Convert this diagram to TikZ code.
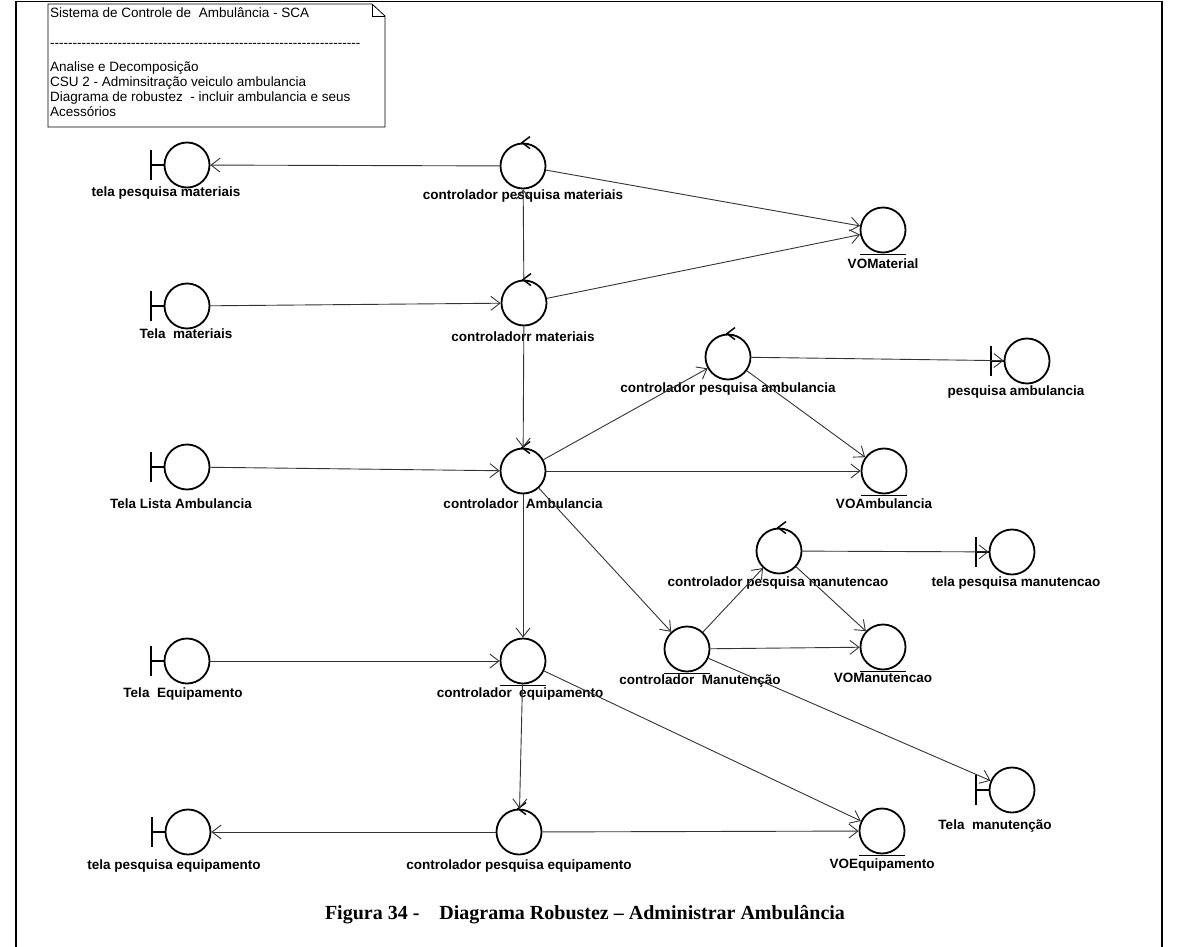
\documentclass[tikz,border=0pt]{standalone}
\usepackage{fontspec}
\newfontfamily\sansfnt{Liberation Sans}
\newfontfamily\seriffnt{Liberation Serif}
\usetikzlibrary{arrows.meta}

% a row of plain hyphens (no -- ligatures)
\newcommand\hyphenrow[1]{\foreach\k in {1,...,#1}{-}}

% robustness-diagram stereotype marks drawn onto a circle node
\newcommand\boundarymark[1]{\draw[iconline] (#1.west) -- ++(-13,0) ++(0,-15) -- ++(0,30);}
\newcommand\controlmark[1]{\draw[iconline, line width=1.5pt] ([xshift=7pt,yshift=6pt]#1.north) -- ([xshift=-1pt]#1.north) -- ([xshift=7pt,yshift=-6pt]#1.north);}
\newcommand\entitymark[1]{\draw[iconline] ([xshift=-23pt,yshift=-1pt]#1.south) -- ([xshift=23pt,yshift=-1pt]#1.south);}

\tikzset{
  iconline/.style={line width=1.8pt, black},
  icon/.style={circle, draw, line width=1.8pt, minimum size=45pt, inner sep=0pt},
  lbl/.style={font=\sansfnt\bfseries\fontsize{13.5}{15}\selectfont, inner sep=0pt},
  noteline/.style={anchor=base west, inner sep=0pt, font=\sansfnt\fontsize{13.5}{15}\selectfont},
  link/.style={draw=black!80, line width=0.9pt, -{Straight Barb[length=9pt,width=14pt]}},
}

\begin{document}
\begin{tikzpicture}[x=1pt,y=-1pt]
\useasboundingbox (0,0) rectangle (1178,947);

% page frame
\draw[line width=1.2pt] (16,947) -- (16,1.5) -- (1162,1.5) -- (1162,947);

% note
\draw[line width=0.8pt] (48,4) -- (372,4) -- (385,16) -- (385,127) -- (48,127) -- cycle;
\draw[line width=0.8pt] (372,4) -- (372,16) -- (385,16);
\node[noteline] (n1) at (50,18)  {Sistema de Controle de\ \ Ambulância - SCA};
\node[noteline] (n2) at (50,48)  {\hyphenrow{69}};
\node[noteline] (n3) at (50,72)  {Analise e Decomposição};
\node[noteline] (n4) at (50,87)  {CSU 2 - Adminsitração veiculo ambulancia};
\node[noteline] (n5) at (50,102) {Diagrama de robustez\ \ - incluir ambulancia e seus};
\node[noteline] (n6) at (50,117) {Acessórios};

% circles
\node[icon] (tpm)   at (187,165) {};
\node[icon] (cpm)   at (523,166) {};
\node[icon] (vomat) at (883,230) {};
\node[icon] (tm)    at (187,306) {};
\node[icon] (cm)    at (524,303) {};
\node[icon] (cpa)   at (728,357) {};
\node[icon] (pa)    at (1027,361) {};
\node[icon] (tla)   at (187,467) {};
\node[icon] (ca)    at (523,471) {};
\node[icon] (voa)   at (884,471) {};
\node[icon] (cpman) at (779,551) {};
\node[icon] (tpman) at (1012,552) {};
\node[icon] (cman)  at (687,649) {};
\node[icon] (voman) at (883,647) {};
\node[icon] (te)    at (187,661) {};
\node[icon] (ce)    at (523,661) {};
\node[icon] (tman)  at (1012,790) {};
\node[icon] (tpe)   at (188,832) {};
\node[icon] (cpe)   at (519,832) {};
\node[icon] (voe)   at (882,831) {};

% stereotype marks
\boundarymark{tpm} \boundarymark{tm} \boundarymark{tla} \boundarymark{te}
\boundarymark{tpe} \boundarymark{pa} \boundarymark{tpman} \boundarymark{tman}
\controlmark{cpm} \controlmark{cm} \controlmark{cpa} \controlmark{ca}
\controlmark{cpman} \controlmark{cpe}
\entitymark{vomat} \entitymark{voa} \entitymark{voman} \entitymark{voe}
\entitymark{cman} \entitymark{ce}

% labels
\node[lbl] (l-tpm)   at (166,193) {tela pesquisa materiais};
\node[lbl] (l-cpm)   at (523,196) {controlador pesquisa materiais};
\node[lbl] (l-vomat) at (883,264) {VOMaterial};
\node[lbl] (l-tm)    at (186,334) {Tela\ \ materiais};
\node[lbl] (l-cm)    at (523,337) {controladorr materiais};
\node[lbl] (l-cpa)   at (728,389) {controlador pesquisa ambulancia};
\node[lbl] (l-pa)    at (1016,392) {pesquisa ambulancia};
\node[lbl] (l-tla)   at (181,504) {Tela Lista Ambulancia};
\node[lbl] (l-ca)    at (523,504) {controlador\ \ Ambulancia};
\node[lbl] (l-voa)   at (884,504) {VOAmbulancia};
\node[lbl] (l-cpman) at (778,583) {controlador pesquisa manutencao};
\node[lbl] (l-tpman) at (1016,583) {tela pesquisa manutencao};
\node[lbl] (l-cman)  at (700,681) {controlador\ \ Manutenção};
\node[lbl] (l-voman) at (883,678) {VOManutencao};
\node[lbl] (l-te)    at (183,694) {Tela\ \ Equipamento};
\node[lbl] (l-ce)    at (520,694) {controlador\ \ equipamento};
\node[lbl] (l-tman)  at (995,826) {Tela\ \ manutenção};
\node[lbl] (l-tpe)   at (174,866) {tela pesquisa equipamento};
\node[lbl] (l-cpe)   at (519,866) {controlador pesquisa equipamento};
\node[lbl] (l-voe)   at (882,865) {VOEquipamento};

% connectors
\draw[link] (cpm) -- (tpm);
\draw[link] (cpm) -- (vomat);
\draw[link] (cm) -- (cpm);
\draw[link] (tm) -- (cm);
\draw[link] (cm) -- (vomat);
\draw[link] (cm) -- (ca);
\draw[link] (tla) -- (ca);
\draw[link] (ca) -- (cpa);
\draw[link] (cpa) -- (pa);
\draw[link] (cpa) -- (voa);
\draw[link] (ca) -- (voa);
\draw[link] (ca) -- (cman);
\draw[link] (cman) -- (cpman);
\draw[link] (cpman) -- (tpman);
\draw[link] (cpman) -- (voman);
\draw[link] (cman) -- (voman);
\draw[link] (cman) -- (tman);
\draw[link] (te) -- (ce);
\draw[link] (ca) -- (ce);
\draw[link] (ce) -- (cpe);
\draw[link] (ce) -- (voe);
\draw[link] (cpe) -- (tpe);
\draw[link] (cpe) -- (voe);

% caption
\node[font=\seriffnt\bfseries\fontsize{20}{24}\selectfont, inner sep=0pt] (caption) at (585,915)
  {Figura 34 -\quad Diagrama Robustez – Administrar Ambulância};
\end{tikzpicture}
\end{document}
